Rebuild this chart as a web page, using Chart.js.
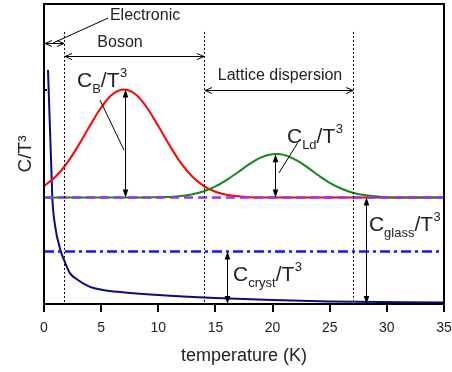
<!DOCTYPE html>
<html>
<head>
<meta charset="utf-8">
<script src="https://cdn.jsdelivr.net/npm/chart.js@4.4.1/dist/chart.umd.min.js"></script>
<style>
  html, body { margin: 0; padding: 0; background: #fff; }
  canvas { display: block; }
</style>
</head>
<body>
<canvas id="heatChart" width="452" height="372"></canvas>
<script>
// temperatura (K) y C/T^3 (unidades arbitrarias, eje sin etiquetas)
const tempGrid = [0,1,2,3,4,5,6,7,8,9,10,11,12,13,14,15,16,17,18,19,20,21,22,23,24,25,26,27,28,29,30,31,32,33,34,35];
const bosonCT3 = [3.93,4.24,4.69,5.28,5.93,6.55,6.99,7.15,6.99,6.55,5.93,5.28,4.69,4.24,3.93,3.74,3.64,3.59,3.56,3.55,3.55,3.55,3.55,3.55,3.55,3.55,3.55,3.55,3.55,3.55,3.55,3.55,3.55,3.55,3.55,3.55];
const latticeCT3 = [3.55,3.55,3.55,3.55,3.55,3.55,3.55,3.55,3.55,3.55,3.56,3.57,3.60,3.66,3.76,3.92,4.14,4.40,4.67,4.89,4.99,4.97,4.81,4.57,4.29,4.04,3.85,3.71,3.63,3.59,3.56,3.55,3.55,3.55,3.55,3.55];
const electronT = [0.35,0.51,0.67,0.73,0.96,1.46,1.75,2.27,2.97,4.02,5.16,6.65,10,15,20,25,35];
const electronCT3 = [7.8,5.97,4.2,3.53,2.63,1.77,1.47,1.03,0.8,0.57,0.47,0.4,0.3,0.2,0.13,0.08,0.05];
const glassLevel = 3.55;
const crystLevel = 1.75;
const xTicks = [0,5,10,15,20,25,30,35];

// anotaciones (en coordenadas de datos)
const regionEdges = [1.75, 14, 27.05];
const regionTop = 9.07;
const regionArrows = [
  { from: 0, to: 1.75, y: 8.7 },
  { from: 1.75, to: 14, y: 8.27 },
  { from: 14, to: 27.05, y: 7.13 }
];
const regionLabels = [
  { text: 'Electronic', x: 5.77, y: 9.6, align: 'left' },
  { text: 'Boson', x: 6.65, y: 8.73, align: 'center' },
  { text: 'Lattice dispersion', x: 20.65, y: 7.63, align: 'center' }
];
const heightArrows = [
  { x: 7.1, top: 7.15, bottom: glassLevel },
  { x: 20.2, top: 4.99, bottom: glassLevel },
  { x: 28.2, top: glassLevel, bottom: 0 },
  { x: 16.0, top: crystLevel, bottom: 0 }
];
const leaders = [
  [5.6, 9.53, 0.79, 8.7],
  [4.9, 6.8, 7.0, 5.13],
  [22.2, 5.37, 20.56, 4.37]
];
const symbols = [
  { sub: 'B', x: 2.89, y: 7.23 },
  { sub: 'Ld', x: 21.26, y: 5.37 },
  { sub: 'glass', x: 28.43, y: 2.43 },
  { sub: 'cryst', x: 16.54, y: 0.77 }
];

const FONT = '"Liberation Sans", Arial, sans-serif';

function pts(xs, ys) {
  return xs.map((v, i) => ({ x: v, y: ys[i] }));
}

function line(ctx, x1, y1, x2, y2) {
  ctx.beginPath();
  ctx.moveTo(x1, y1);
  ctx.lineTo(x2, y2);
  ctx.stroke();
}

// punta abierta horizontal
function openHead(ctx, x, y, dir) {
  ctx.beginPath();
  ctx.moveTo(x - dir * 7, y - 3);
  ctx.lineTo(x, y);
  ctx.lineTo(x - dir * 7, y + 3);
  ctx.stroke();
}

// punta rellena vertical
function solidHead(ctx, x, y, dir) {
  ctx.beginPath();
  ctx.moveTo(x, y);
  ctx.lineTo(x - 2.8, y - dir * 8);
  ctx.lineTo(x + 2.8, y - dir * 8);
  ctx.closePath();
  ctx.fill();
}

const annotate = {
  id: 'annotate',
  afterDatasetsDraw(chart) {
    const { ctx, chartArea: a, scales: { x, y } } = chart;
    ctx.save();
    ctx.strokeStyle = '#000';
    ctx.fillStyle = '#000';

    // líneas punteadas
    ctx.lineWidth = 1;
    ctx.setLineDash([2, 2]);
    regionEdges.forEach(t => {
      const px = Math.round(x.getPixelForValue(t)) + 0.5;
      line(ctx, px, y.getPixelForValue(regionTop), px, a.bottom);
    });
    ctx.setLineDash([]);

    // flechas horizontales
    regionArrows.forEach(r => {
      const x1 = x.getPixelForValue(r.from) + 1, x2 = x.getPixelForValue(r.to);
      const py = Math.round(y.getPixelForValue(r.y)) + 0.5;
      line(ctx, x1, py, x2, py);
      openHead(ctx, x1, py, -1);
      openHead(ctx, x2, py, 1);
    });

    // flechas verticales
    heightArrows.forEach(h => {
      const px = Math.round(x.getPixelForValue(h.x)) + 0.5;
      const y1 = y.getPixelForValue(h.top), y2 = y.getPixelForValue(h.bottom);
      line(ctx, px, y1 + 4, px, y2 - 4);
      solidHead(ctx, px, y1, -1);
      solidHead(ctx, px, y2, 1);
    });

    // líneas guía
    leaders.forEach(l => {
      line(ctx, x.getPixelForValue(l[0]), y.getPixelForValue(l[1]), x.getPixelForValue(l[2]), y.getPixelForValue(l[3]));
    });

    // textos
    ctx.fillStyle = '#222';
    ctx.textBaseline = 'middle';
    ctx.font = '16px ' + FONT;
    regionLabels.forEach(l => {
      ctx.textAlign = l.align;
      ctx.fillText(l.text, x.getPixelForValue(l.x), y.getPixelForValue(l.y));
    });

    ctx.textAlign = 'left';
    ctx.textBaseline = 'alphabetic';
    symbols.forEach(s => {
      let px = x.getPixelForValue(s.x);
      const py = y.getPixelForValue(s.y);
      ctx.font = '21px ' + FONT;
      ctx.fillText('C', px, py);
      px += ctx.measureText('C').width;
      ctx.font = '13px ' + FONT;
      ctx.fillText(s.sub, px, py + 6);
      px += ctx.measureText(s.sub).width;
      ctx.font = '21px ' + FONT;
      ctx.fillText('/T', px, py);
      px += ctx.measureText('/T').width + 0.5;
      ctx.font = '13px ' + FONT;
      ctx.fillText('3', px, py - 10);
    });
    ctx.restore();
  },
  afterDraw(chart) {
    const { ctx, chartArea: a, scales: { y } } = chart;
    ctx.save();
    ctx.strokeStyle = '#000';
    ctx.lineWidth = 2;
    ctx.strokeRect(a.left, a.top, a.right - a.left, a.bottom - a.top);
    const ty = Math.round(y.getPixelForValue(7.13));
    line(ctx, a.left, ty, a.left + 3, ty);
    ctx.restore();
  }
};

new Chart(document.getElementById('heatChart').getContext('2d'), {
  type: 'line',
  data: {
    datasets: [
      {
        label: 'C_glass',
        data: pts([0, 35], [glassLevel, glassLevel]),
        borderColor: '#9933ee',
        borderWidth: 2.5,
        borderDash: [9, 5],
        pointRadius: 0
      },
      {
        label: 'C_Ld',
        data: pts(tempGrid, latticeCT3),
        borderColor: '#138a13',
        borderWidth: 2,
        tension: 0.4,
        pointRadius: 0
      },
      {
        label: 'C_B',
        data: pts(tempGrid, bosonCT3),
        borderColor: '#ff0000',
        borderWidth: 2,
        tension: 0.4,
        pointRadius: 0
      },
      {
        label: 'C_cryst',
        data: pts([0, 35], [crystLevel, crystLevel]),
        borderColor: '#1515ff',
        borderWidth: 2.5,
        borderDash: [10, 4, 3, 4],
        pointRadius: 0
      },
      {
        label: 'electronic',
        data: pts(electronT, electronCT3),
        borderColor: '#0b0b80',
        borderWidth: 2,
        cubicInterpolationMode: 'monotone',
        pointRadius: 0
      }
    ]
  },
  options: {
    responsive: false,
    animation: false,
    devicePixelRatio: 1,
    layout: { padding: { top: 4, right: 8, left: 0, bottom: 0 } },
    plugins: {
      legend: { display: false },
      tooltip: { enabled: false }
    },
    scales: {
      x: {
        type: 'linear',
        min: 0,
        max: 35,
        afterBuildTicks: s => { s.ticks = xTicks.map(v => ({ value: v })); },
        afterFit: s => { s.height = 68; s.paddingRight = 8; s.paddingLeft = 0; },
        ticks: { color: '#222', font: { family: FONT, size: 14 }, padding: 8, maxRotation: 0 },
        grid: { drawOnChartArea: false, drawTicks: true, tickLength: 8, color: '#000', lineWidth: 2 },
        border: { display: false },
        title: {
          display: true,
          text: 'temperature (K)',
          color: '#222',
          font: { family: FONT, size: 18 },
          padding: { top: 0, bottom: 5 }
        }
      },
      y: {
        min: 0,
        max: 10,
        afterFit: s => { s.width = 44; },
        ticks: { display: false },
        grid: { display: false },
        border: { display: false },
        title: {
          display: true,
          text: 'C/T³',
          color: '#222',
          font: { family: FONT, size: 19 },
          padding: { top: 14, bottom: 0 }
        }
      }
    }
  },
  plugins: [annotate]
});
</script>
</body>
</html>
